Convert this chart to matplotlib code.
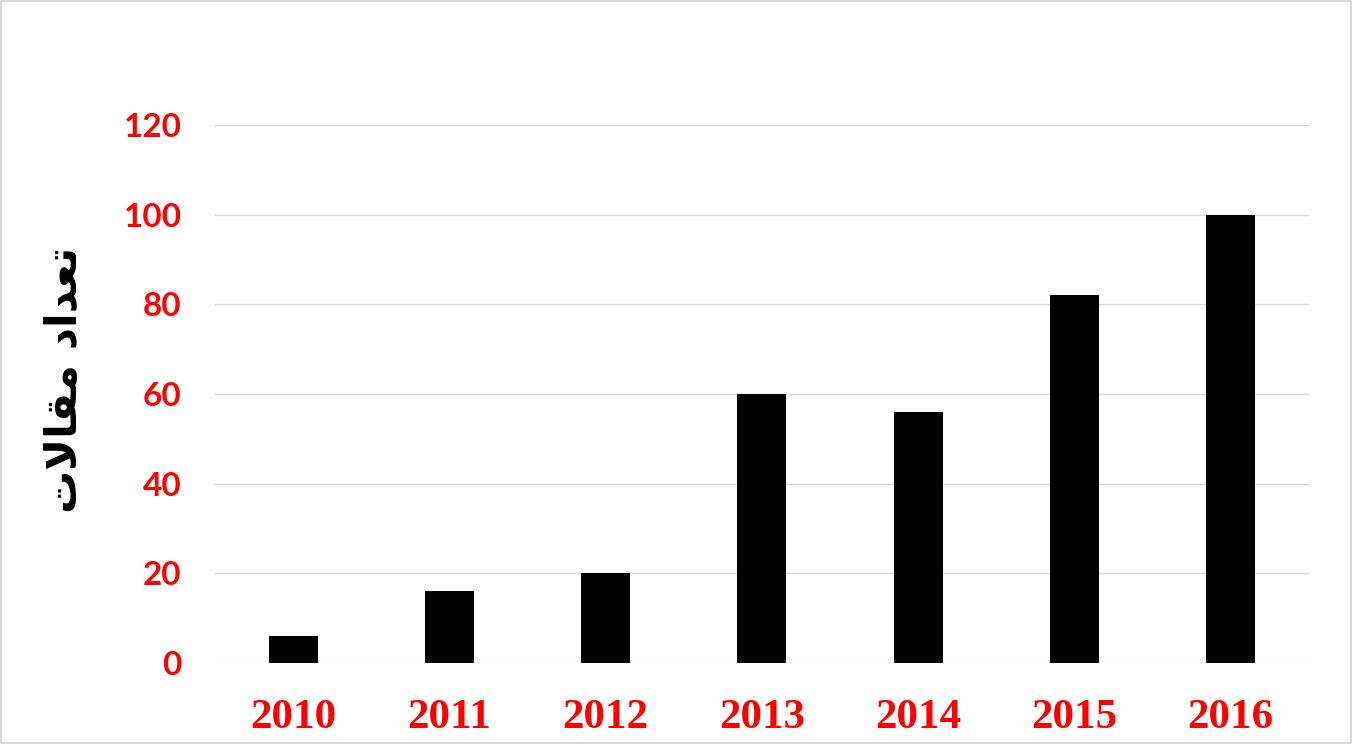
import matplotlib.pyplot as plt
from matplotlib.patches import Rectangle

years = ["2010", "2011", "2012", "2013", "2014", "2015", "2016"]
counts = [6, 16, 20, 60, 56, 82, 100]
yticks = [0, 20, 40, 60, 80, 100, 120]

# "تعداد مقالات" written with Arabic presentation forms in visual order,
# since matplotlib does no Arabic shaping or bidi
ylabel = "\uFE95\uFEFB\uFE8E\uFED8\uFEE3 \uFEA9\uFE8D\uFEAA\uFECC\uFE97"

fig = plt.figure(figsize=(13.52, 7.44), dpi=100)
ax = fig.add_axes([0.159, 0.109, 0.809, 0.723])

ax.bar(range(len(years)), counts, width=0.314, color="black", zorder=3)

ax.set_xlim(-0.5, len(years) - 0.5)
ax.set_ylim(0, 120)
ax.set_yticks(yticks)
ax.set_xticks(range(len(years)))
ax.set_xticklabels(years, fontfamily="Liberation Serif", fontweight="bold",
                   fontsize=31, color="red")
ax.set_yticklabels([str(v) for v in yticks], fontfamily="Lato",
                   fontweight="bold", fontsize=24, color="red")
ax.tick_params(axis="both", length=0)
ax.tick_params(axis="y", pad=24)
ax.tick_params(axis="x", pad=26)

ax.grid(axis="y", color="#d9d9d9", linewidth=1, zorder=0)
for s in ax.spines.values():
    s.set_visible(False)

fig.text(0.048, 0.49, ylabel, rotation=90, ha="center", va="center",
         fontfamily="DejaVu Sans", fontweight="bold", fontsize=31)

# light frame around the picture
fig.patches.append(Rectangle((0, 0), 1, 1, transform=fig.transFigure,
                             fill=False, edgecolor="#d9d9d9", linewidth=3))

fig.savefig("out.png", dpi=100)
